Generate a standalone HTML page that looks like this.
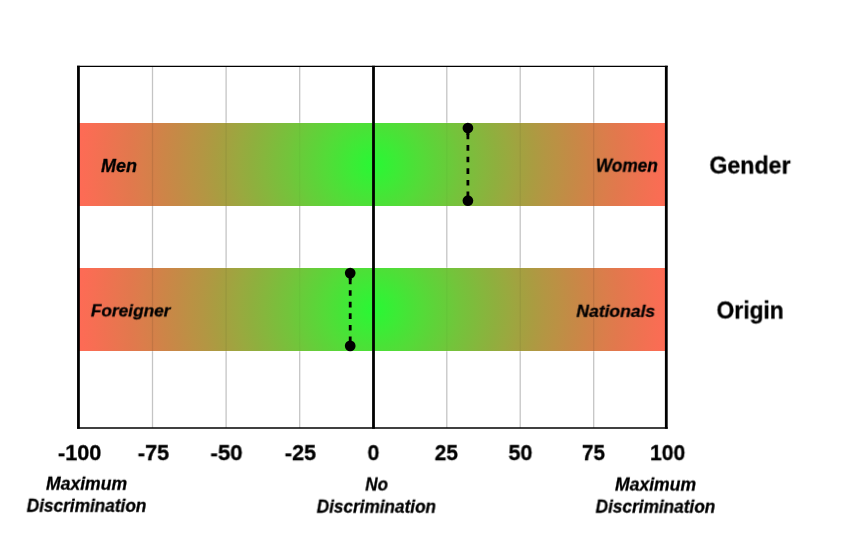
<!DOCTYPE html>
<html><head><meta charset="utf-8"><title>Discrimination chart</title>
<style>
html,body{margin:0;padding:0;background:#fff;}
body{width:847px;height:540px;position:relative;overflow:hidden;font-family:"Liberation Sans",sans-serif;}
.band{position:absolute;}
.t{position:absolute;left:0;top:0;-webkit-text-stroke:0.3px #000;white-space:nowrap;color:#000;font-weight:bold;line-height:1;transform-origin:0 0;will-change:transform;font-family:"Liberation Sans",sans-serif;}
.i{font-style:italic;}
svg{position:absolute;left:0;top:0;}
</style></head><body>
<div class="band" style="left:77.6px;top:122.7px;width:589.5px;height:83.4px;background:radial-gradient(circle 294px at 295.9px 50%, rgb(40,248,52) 0.00%, rgb(51,241,53) 4.17%, rgb(62,234,54) 8.33%, rgb(73,226,55) 12.50%, rgb(84,219,56) 16.67%, rgb(94,211,57) 20.83%, rgb(104,204,58) 25.00%, rgb(115,196,59) 29.17%, rgb(124,189,60) 33.33%, rgb(134,182,61) 37.50%, rgb(143,175,62) 41.67%, rgb(153,169,63) 45.83%, rgb(162,162,64) 50.00%, rgb(170,156,65) 54.17%, rgb(179,150,67) 58.33%, rgb(187,145,68) 62.50%, rgb(195,139,70) 66.67%, rgb(203,134,71) 70.83%, rgb(211,129,73) 75.00%, rgb(219,125,75) 79.17%, rgb(226,120,77) 83.33%, rgb(233,117,79) 87.50%, rgb(240,113,81) 91.67%, rgb(247,110,83) 95.83%, rgb(253,107,85) 100.00%)"></div>
<div class="band" style="left:77.6px;top:267.8px;width:589.5px;height:83.4px;background:radial-gradient(circle 294px at 295.9px 50%, rgb(40,248,52) 0.00%, rgb(51,241,53) 4.17%, rgb(62,234,54) 8.33%, rgb(73,226,55) 12.50%, rgb(84,219,56) 16.67%, rgb(94,211,57) 20.83%, rgb(104,204,58) 25.00%, rgb(115,196,59) 29.17%, rgb(124,189,60) 33.33%, rgb(134,182,61) 37.50%, rgb(143,175,62) 41.67%, rgb(153,169,63) 45.83%, rgb(162,162,64) 50.00%, rgb(170,156,65) 54.17%, rgb(179,150,67) 58.33%, rgb(187,145,68) 62.50%, rgb(195,139,70) 66.67%, rgb(203,134,71) 70.83%, rgb(211,129,73) 75.00%, rgb(219,125,75) 79.17%, rgb(226,120,77) 83.33%, rgb(233,117,79) 87.50%, rgb(240,113,81) 91.67%, rgb(247,110,83) 95.83%, rgb(253,107,85) 100.00%)"></div>
<svg width="847" height="540" viewBox="0 0 847 540">
<g stroke="#000" stroke-opacity="0.23" stroke-width="1.3">
<line x1="152.5" y1="66.4" x2="152.5" y2="122.7"/>
<line x1="152.5" y1="206.1" x2="152.5" y2="267.8"/>
<line x1="152.5" y1="351.2" x2="152.5" y2="428.0"/>
<line x1="226.1" y1="66.4" x2="226.1" y2="122.7"/>
<line x1="226.1" y1="206.1" x2="226.1" y2="267.8"/>
<line x1="226.1" y1="351.2" x2="226.1" y2="428.0"/>
<line x1="299.7" y1="66.4" x2="299.7" y2="122.7"/>
<line x1="299.7" y1="206.1" x2="299.7" y2="267.8"/>
<line x1="299.7" y1="351.2" x2="299.7" y2="428.0"/>
<line x1="446.8" y1="66.4" x2="446.8" y2="122.7"/>
<line x1="446.8" y1="206.1" x2="446.8" y2="267.8"/>
<line x1="446.8" y1="351.2" x2="446.8" y2="428.0"/>
<line x1="520.2" y1="66.4" x2="520.2" y2="122.7"/>
<line x1="520.2" y1="206.1" x2="520.2" y2="267.8"/>
<line x1="520.2" y1="351.2" x2="520.2" y2="428.0"/>
<line x1="593.7" y1="66.4" x2="593.7" y2="122.7"/>
<line x1="593.7" y1="206.1" x2="593.7" y2="267.8"/>
<line x1="593.7" y1="351.2" x2="593.7" y2="428.0"/>
</g>
<g stroke="#000" stroke-width="1.3">
<line x1="152.5" y1="122.7" x2="152.5" y2="206.1" stroke-opacity="0.085"/>
<line x1="152.5" y1="267.8" x2="152.5" y2="351.2" stroke-opacity="0.085"/>
<line x1="226.1" y1="122.7" x2="226.1" y2="206.1" stroke-opacity="0.06"/>
<line x1="226.1" y1="267.8" x2="226.1" y2="351.2" stroke-opacity="0.06"/>
<line x1="299.7" y1="122.7" x2="299.7" y2="206.1" stroke-opacity="0.03"/>
<line x1="299.7" y1="267.8" x2="299.7" y2="351.2" stroke-opacity="0.03"/>
<line x1="446.8" y1="122.7" x2="446.8" y2="206.1" stroke-opacity="0.03"/>
<line x1="446.8" y1="267.8" x2="446.8" y2="351.2" stroke-opacity="0.03"/>
<line x1="520.2" y1="122.7" x2="520.2" y2="206.1" stroke-opacity="0.06"/>
<line x1="520.2" y1="267.8" x2="520.2" y2="351.2" stroke-opacity="0.06"/>
<line x1="593.7" y1="122.7" x2="593.7" y2="206.1" stroke-opacity="0.085"/>
<line x1="593.7" y1="267.8" x2="593.7" y2="351.2" stroke-opacity="0.085"/>
</g>
<g stroke="#000" fill="none">
<line x1="78.45" y1="65.7" x2="78.45" y2="428.7" stroke-width="2.8"/>
<line x1="373.5" y1="65.7" x2="373.5" y2="428.7" stroke-width="2.8"/>
<line x1="666.3" y1="65.7" x2="666.3" y2="428.7" stroke-width="2.8"/>
<line x1="77.05" y1="66.4" x2="667.6999999999999" y2="66.4" stroke-width="1.4"/>
<line x1="77.05" y1="428.0" x2="667.6999999999999" y2="428.0" stroke-width="1.4"/>
<line x1="467.9" y1="133.5" x2="467.9" y2="200.7" stroke-width="2.8" stroke-dasharray="5.65 5.95"/>
<line x1="467.9" y1="128.05" x2="467.9" y2="135.05" stroke-width="2.8"/>
<line x1="350.2" y1="278.55" x2="350.2" y2="345.9" stroke-width="2.8" stroke-dasharray="5.65 5.95"/>
<line x1="350.2" y1="273.1" x2="350.2" y2="280.1" stroke-width="2.8"/>
</g><g fill="#000">
<circle cx="467.9" cy="128.05" r="5.35"/><circle cx="467.9" cy="200.7" r="5.35"/>
<circle cx="350.2" cy="273.1" r="5.35"/><circle cx="350.2" cy="345.9" r="5.35"/>
</g></svg>
<div class="t i" style="font-size:17.5px;transform:translate(101.1px,158.0px) rotate(0.03deg) scaleX(1.0239)">Men</div>
<div class="t i" style="font-size:17.5px;transform:translate(595.85px,157.7px) rotate(0.03deg) scaleX(0.9847)">Women</div>
<div class="t i" style="font-size:17.0px;transform:translate(90.9px,302.38px) rotate(0.03deg) scaleX(1.0141)">Foreigner</div>
<div class="t i" style="font-size:17.0px;transform:translate(576.4px,302.83px) rotate(0.03deg) scaleX(1.0289)">Nationals</div>
<div class="t" style="font-size:23.5px;transform:translate(709.45px,154.54px) rotate(0.03deg) scaleX(0.985)">Gender</div>
<div class="t" style="font-size:23.5px;transform:translate(716.55px,299.49px) rotate(0.03deg) scaleX(0.9721)">Origin</div>
<div class="t" style="font-size:21.5px;transform:translate(58.0px,443.16px) rotate(0.03deg) scaleX(1.0092)">-100</div>
<div class="t" style="font-size:21.5px;transform:translate(137.85px,443.16px) rotate(0.03deg) scaleX(1.0077)">-75</div>
<div class="t" style="font-size:21.5px;transform:translate(210.5px,443.16px) rotate(0.03deg) scaleX(1.0332)">-50</div>
<div class="t" style="font-size:21.5px;transform:translate(284.85px,443.16px) rotate(0.03deg) scaleX(1.001)">-25</div>
<div class="t" style="font-size:21.5px;transform:translate(367.55px,443.16px) rotate(0.03deg) scaleX(0.9896)">0</div>
<div class="t" style="font-size:21.5px;transform:translate(434.75px,443.16px) rotate(0.03deg) scaleX(0.9679)">25</div>
<div class="t" style="font-size:21.5px;transform:translate(508.45px,443.16px) rotate(0.03deg) scaleX(1.0026)">50</div>
<div class="t" style="font-size:21.5px;transform:translate(582.0px,443.16px) rotate(0.03deg) scaleX(0.9596)">75</div>
<div class="t" style="font-size:21.5px;transform:translate(650.0px,443.16px) rotate(0.03deg) scaleX(0.9806)">100</div>
<div class="t i" style="font-size:17.5px;transform:translate(46.0px,475.75px) rotate(0.03deg) scaleX(1.0048)">Maximum</div>
<div class="t i" style="font-size:17.5px;transform:translate(26.7px,497.8px) rotate(0.03deg) scaleX(0.9852)">Discrimination</div>
<div class="t i" style="font-size:17.5px;transform:translate(365.3px,476.5px) rotate(0.03deg) scaleX(0.9699)">No</div>
<div class="t i" style="font-size:17.5px;transform:translate(316.7px,498.7px) rotate(0.03deg) scaleX(0.9819)">Discrimination</div>
<div class="t i" style="font-size:17.5px;transform:translate(615.0px,476.55px) rotate(0.03deg) scaleX(1.0035)">Maximum</div>
<div class="t i" style="font-size:17.5px;transform:translate(595.6px,498.7px) rotate(0.03deg) scaleX(0.9852)">Discrimination</div>
</body></html>
